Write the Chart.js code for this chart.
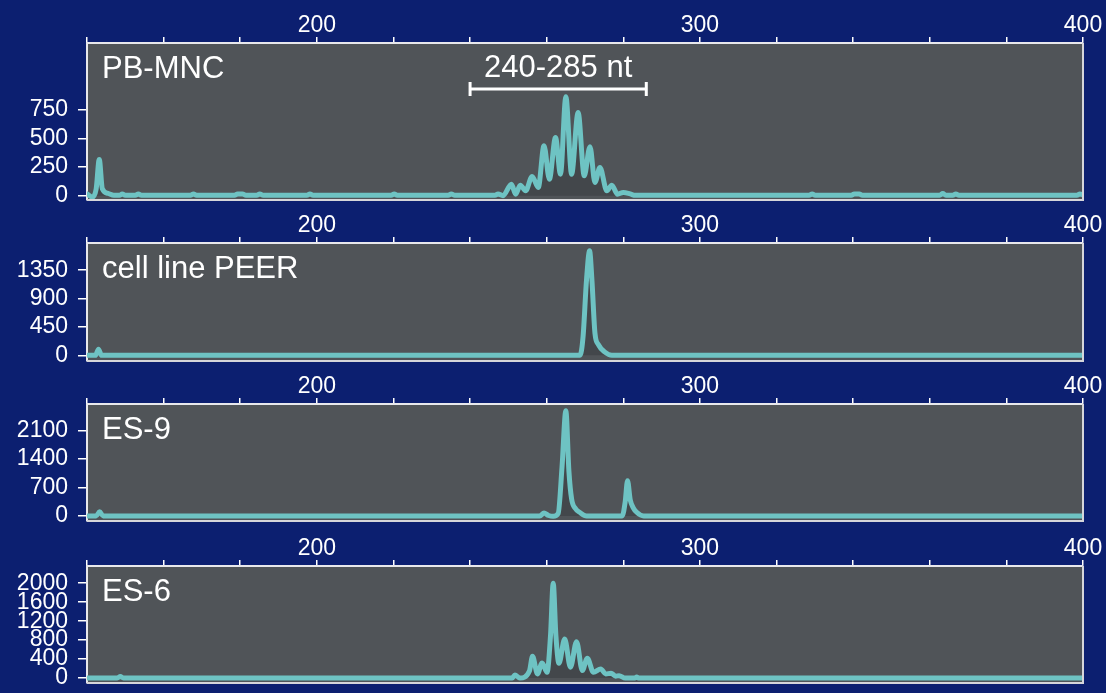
<!DOCTYPE html>
<html>
<head>
<meta charset="utf-8">
<script src="https://cdn.jsdelivr.net/npm/chart.js@4.4.0/dist/chart.umd.min.js"></script>
<style>
  html, body { margin: 0; padding: 0; background: #0c1f70; }
  #wrap { position: relative; width: 1106px; height: 693px; overflow: hidden; }
  #wrap canvas { position: absolute; left: 0; }
</style>
</head>
<body>
<div id="wrap">
  <canvas id="c1" width="1106" height="202" style="top:0px"></canvas>
  <canvas id="c2" width="1106" height="163" style="top:200px"></canvas>
  <canvas id="c3" width="1106" height="162" style="top:361px"></canvas>
  <canvas id="c4" width="1106" height="162" style="top:523px"></canvas>
</div>
<script>
// fragment length (nt) on top axis
const xTicks = [140, 160, 180, 200, 220, 240, 260, 280, 300, 320, 340, 360, 380, 400];
const xLabels = [200, 300, 400];

const titles = ['PB-MNC', 'cell line PEER', 'ES-9', 'ES-6'];
const bracketRange = [240, 286];
const bracketText = '240-285 nt';

// PB-MNC
const pbX = [140, 141.4, 142.4, 143.2, 144.0, 145.5, 147, 148.5, 149.2, 150, 152.6, 153.4, 154.2,
  167, 167.8, 168.6, 178.5, 179.3, 180.6, 181.5, 184.3, 185.1, 186, 197.4, 198.2, 199,
  219.4, 220.2, 221, 234.3, 235.1, 236, 246.5, 247.3, 248.6, 250.8, 251.9, 253.1, 254.5,
  256.2, 257.8, 259.3, 260.7, 262.3, 263.6, 265.0, 266.5, 268.2, 269.8, 271.3, 272.6,
  273.9, 275.7, 277.0, 278.5, 280.0, 281.8, 283.1, 328.5, 329.3, 330.1, 339.5, 340.3,
  341.6, 342.4, 362.6, 363.4, 364.2, 366, 366.8, 367.6, 398.4, 399.2, 400];
const pbY = [15, -12, 60, 317, 60, 20, 3, 3, 15, 3, 3, 15, 3,
  3, 15, 3, 3, 15, 15, 3, 3, 15, 3, 3, 15, 3,
  3, 15, 3, 3, 15, 3, 3, 15, 0, 100, 13, 92, 43,
  168, 72, 437, 144, 509, 188, 865, 188, 728, 174, 428, 115,
  247, 43, 92, 13, 28, 15, 3, 3, 15, 3, 3, 15,
  15, 3, 3, 18, 3, 3, 15, 3, 3, 15, 5];

// cell line PEER
const peerX = [140, 142.2, 143.0, 143.8, 268.7, 269.5, 270.4, 271.2, 271.8, 272.6, 273.5, 275.2, 277, 400];
const peerY = [0, 0, 95, 0, 0, 300, 1200, 1657, 1200, 350, 170, 50, 0, 0];

// ES-9
const es9X = [140, 142.4, 143.3, 144.2, 258.2, 259.3, 260.5, 261.7, 263.0, 264.0, 265.0, 265.8,
  266.5, 267.5, 268.6, 270.4, 279.7, 280.5, 281.1, 281.8, 282.6, 283.5, 285.3, 400];
const es9Y = [0, 0, 100, 0, 0, 70, 10, -10, 60, 1200, 2588, 1100,
  420, 180, 90, 0, 0, 350, 866, 400, 200, 90, 0, 0];

// ES-6
const es6X = [140, 147.9, 148.7, 149.5, 251, 251.7, 253, 255.5, 256.3, 257.6, 258.8, 260.1, 261.0,
  261.7, 262.4, 263.2, 264.7, 266.2, 267.8, 269.3, 270.6, 272.2, 274.1, 275.4, 276.8,
  278, 278.9, 280.5, 283.0, 283.5, 284.1, 400];
const es6Y = [0, 0, 30, 0, 0, 65, 0, 150, 459, 86, 318, 122, 900,
  2002, 900, 311, 823, 227, 768, 158, 417, 122, 192, 86, 101,
  40, 50, 0, 0, 20, 0, 0];

const yTicks = [
  [0, 250, 500, 750],
  [0, 450, 900, 1350],
  [0, 700, 1400, 2100],
  [0, 400, 800, 1200, 1600, 2000]
];
const yRanges = [[-38, 1336], [-90, 1781], [-125, 2755], [-105, 2364]];

const series = [[pbX, pbY], [peerX, peerY], [es9X, es9Y], [es6X, es6Y]];

const font = { family: "'Liberation Sans', Arial, sans-serif", size: 23 };
const lineColor = '#6ec3c3';

const panelDeco = {
  id: 'panelDeco',
  beforeDraw(chart) {
    const a = chart.chartArea, ctx = chart.ctx;
    ctx.save();
    ctx.fillStyle = '#505458';
    ctx.fillRect(a.left, a.top, a.right - a.left, a.bottom - a.top);
    ctx.restore();
  },
  afterDraw(chart, args, opts) {
    const a = chart.chartArea, ctx = chart.ctx;
    ctx.save();
    ctx.strokeStyle = '#d6d6da';
    ctx.lineWidth = 2;
    ctx.beginPath();
    ctx.moveTo(a.left, a.bottom);
    ctx.lineTo(a.right, a.bottom);
    ctx.lineTo(a.right, a.top);
    ctx.stroke();

    ctx.fillStyle = '#ffffff';
    ctx.font = "31px 'Liberation Sans', Arial, sans-serif";
    ctx.textBaseline = 'alphabetic';
    ctx.textAlign = 'left';
    ctx.fillText(opts.title, a.left + 15, a.top + 35);

    if (opts.bracket) {
      const xs = chart.scales.x;
      const x0 = xs.getPixelForValue(opts.bracket[0]);
      const x1 = xs.getPixelForValue(opts.bracket[1]);
      const y = a.top + 46;
      ctx.strokeStyle = '#ffffff';
      ctx.lineWidth = 3;
      ctx.beginPath();
      ctx.moveTo(x0, y); ctx.lineTo(x1, y);
      ctx.moveTo(x0, y - 7); ctx.lineTo(x0, y + 7);
      ctx.moveTo(x1, y - 7); ctx.lineTo(x1, y + 7);
      ctx.stroke();
      ctx.textAlign = 'center';
      ctx.fillText(opts.bracketText, (x0 + x1) / 2, a.top + 34);
    }
    ctx.restore();
  }
};

function makePanel(i) {
  const [xs, ys] = series[i];
  const pts = xs.map((x, k) => ({ x: x, y: ys[k] }));
  new Chart(document.getElementById('c' + (i + 1)), {
    type: 'line',
    data: {
      datasets: [{
        data: pts,
        borderColor: lineColor,
        borderWidth: 5,
        borderJoinStyle: 'round',
        borderCapStyle: 'round',
        pointRadius: 0,
        cubicInterpolationMode: 'monotone',
        fill: 'origin',
        backgroundColor: 'rgba(40,44,48,0.3)'
      }]
    },
    options: {
      responsive: false,
      animation: false,
      devicePixelRatio: 1,
      layout: { padding: { left: 0, right: 23, top: 0, bottom: 2 } },
      plugins: {
        legend: { display: false },
        tooltip: { enabled: false },
        panelDeco: {
          title: titles[i],
          bracket: i === 0 ? bracketRange : null,
          bracketText: bracketText
        }
      },
      scales: {
        x: {
          type: 'linear',
          position: 'top',
          min: 140,
          max: 400,
          afterBuildTicks: s => { s.ticks = xTicks.map(v => ({ value: v })); },
          afterFit: s => { s.height = 43; s.paddingLeft = 0; s.paddingRight = 0; },
          ticks: {
            color: '#ffffff',
            font: font,
            padding: -2,
            maxRotation: 0,
            autoSkip: false,
            callback: v => xLabels.includes(v) ? String(v) : ''
          },
          grid: { drawOnChartArea: false, drawTicks: true, tickLength: 6, color: '#ffffff', lineWidth: 1.5 },
          border: { display: true, color: '#e8e8ec', width: 2 }
        },
        y: {
          type: 'linear',
          min: yRanges[i][0],
          max: yRanges[i][1],
          afterBuildTicks: s => { s.ticks = yTicks[i].map(v => ({ value: v })); },
          afterFit: s => { s.width = 87; s.paddingTop = 0; s.paddingBottom = 0; },
          ticks: { color: '#ffffff', font: font, padding: 10, autoSkip: false, callback: v => String(v) },
          grid: { drawOnChartArea: false, drawTicks: true, tickLength: 9, color: '#ffffff', lineWidth: 1.5 },
          border: { display: true, color: '#e8e8ec', width: 2 }
        }
      }
    },
    plugins: [panelDeco]
  });
}

for (let i = 0; i < 4; i++) makePanel(i);
</script>
</body>
</html>
